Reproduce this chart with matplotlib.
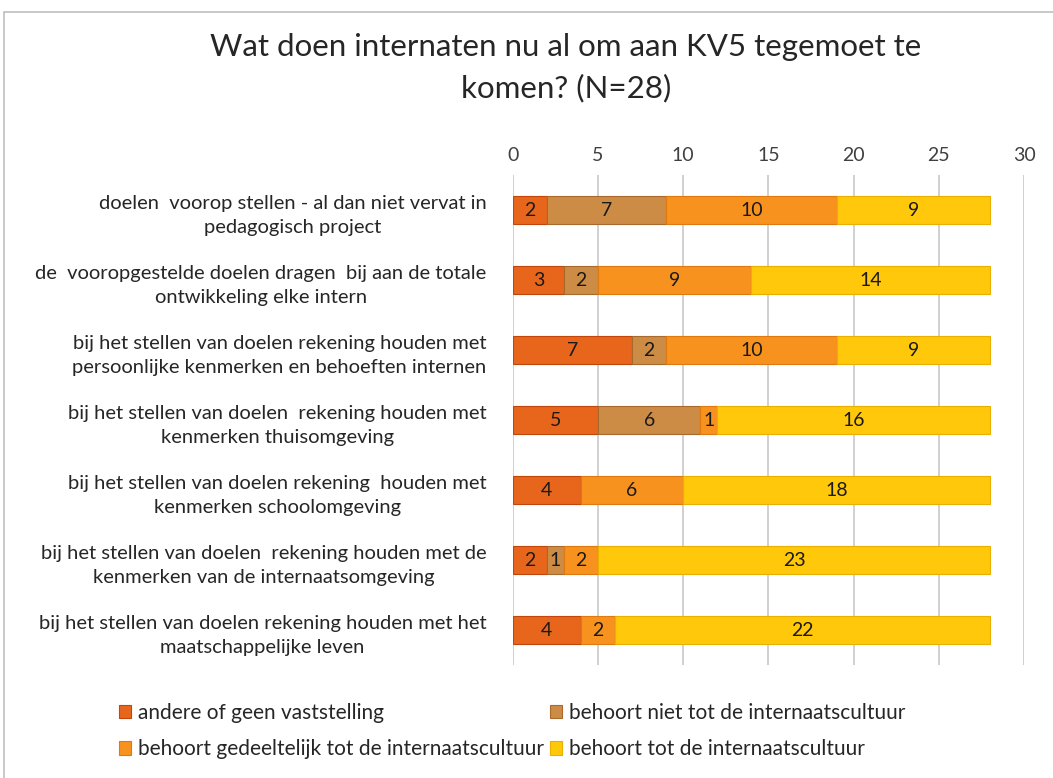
import matplotlib
matplotlib.use("Agg")
import matplotlib.pyplot as plt
import numpy as np
from matplotlib.patches import Rectangle

plt.rcParams['font.family'] = ['Lato', 'DejaVu Sans']

categories = [
    "doelen  voorop stellen - al dan niet vervat in\npedagogisch project",
    "de  vooropgestelde doelen dragen  bij aan de totale\nontwikkeling elke intern",
    "bij het stellen van doelen rekening houden met\npersoonlijke kenmerken en behoeften internen",
    "bij het stellen van doelen  rekening houden met\nkenmerken thuisomgeving",
    "bij het stellen van doelen rekening  houden met\nkenmerken schoolomgeving",
    "bij het stellen van doelen  rekening houden met de\nkenmerken van de internaatsomgeving",
    "bij het stellen van doelen rekening houden met het\nmaatschappelijke leven",
]
series_names = [
    "andere of geen vaststelling",
    "behoort niet tot de internaatscultuur",
    "behoort gedeeltelijk tot de internaatscultuur",
    "behoort tot de internaatscultuur",
]
andere = [2, 3, 7, 5, 4, 2, 4]
niet = [7, 2, 2, 6, 0, 1, 0]
gedeeltelijk = [10, 9, 10, 1, 6, 2, 2]
wel = [9, 14, 9, 16, 18, 23, 22]
series = [andere, niet, gedeeltelijk, wel]
colors = ["#E8661C", "#CC8C45", "#F7921F", "#FFC80A"]
edges = ["#C2450C", "#A86A2C", "#E07A10", "#E8B000"]

fig = plt.figure(figsize=(10.53, 7.78), dpi=100)
ax = fig.add_axes([0.487, 0.145, 0.4855, 0.63])

y = np.arange(len(categories))
left = np.zeros(len(categories))
handles = []
for vals, c, ec, name in zip(series, colors, edges, series_names):
    vals = np.array(vals, dtype=float)
    bars = ax.barh(y, vals, left=left, height=0.4, color=c, edgecolor=ec,
                   linewidth=0.8, label=name, zorder=3)
    for yi, l, v in zip(y, left, vals):
        if v > 0:
            ax.text(l + v / 2, yi, f"{int(v)}", ha='center', va='center',
                    fontsize=14, color='#1a1a1a', zorder=4)
    handles.append(bars)
    left += vals

ax.set_xlim(0, 30)
ax.set_ylim(len(categories) - 0.5, -0.5)
ax.set_xticks(range(0, 31, 5))
ax.xaxis.tick_top()
ax.tick_params(axis='x', length=0, labelsize=14, colors='#404040', pad=8)
ax.tick_params(axis='y', length=0, pad=19)
ax.set_yticks(y)
ax.set_yticklabels(categories, fontsize=14.5, color='#262626')
for lab in ax.get_yticklabels():
    lab.set_multialignment('center')
    lab.set_linespacing(1.5)
ax.grid(axis='x', color='#C8C8C8', linewidth=1.2, zorder=0)
for s in ax.spines.values():
    s.set_visible(False)

fig.text(0.5375, 0.94, "Wat doen internaten nu al om aan KV5 tegemoet te",
         ha='center', va='center', fontsize=22.5, color='#262626')
fig.text(0.5375, 0.887, "komen? (N=28)",
         ha='center', va='center', fontsize=22.5, color='#262626')

order = [0, 2, 1, 3]
leg = fig.legend([handles[i] for i in order], [series_names[i] for i in order],
                 loc='lower left',
                 bbox_to_anchor=(0.095, 0.0), ncol=2, frameon=False,
                 fontsize=15, handlelength=0.6, handleheight=0.6,
                 handletextpad=0.3, columnspacing=0.3, labelspacing=0.8)
for t in leg.get_texts():
    t.set_color('#262626')

fig.patches.append(Rectangle((0.004, -0.01), 1.0, 0.995, transform=fig.transFigure,
                             fill=False, edgecolor='#BFBFBF', linewidth=1.2))

fig.savefig("out.png", dpi=100)
